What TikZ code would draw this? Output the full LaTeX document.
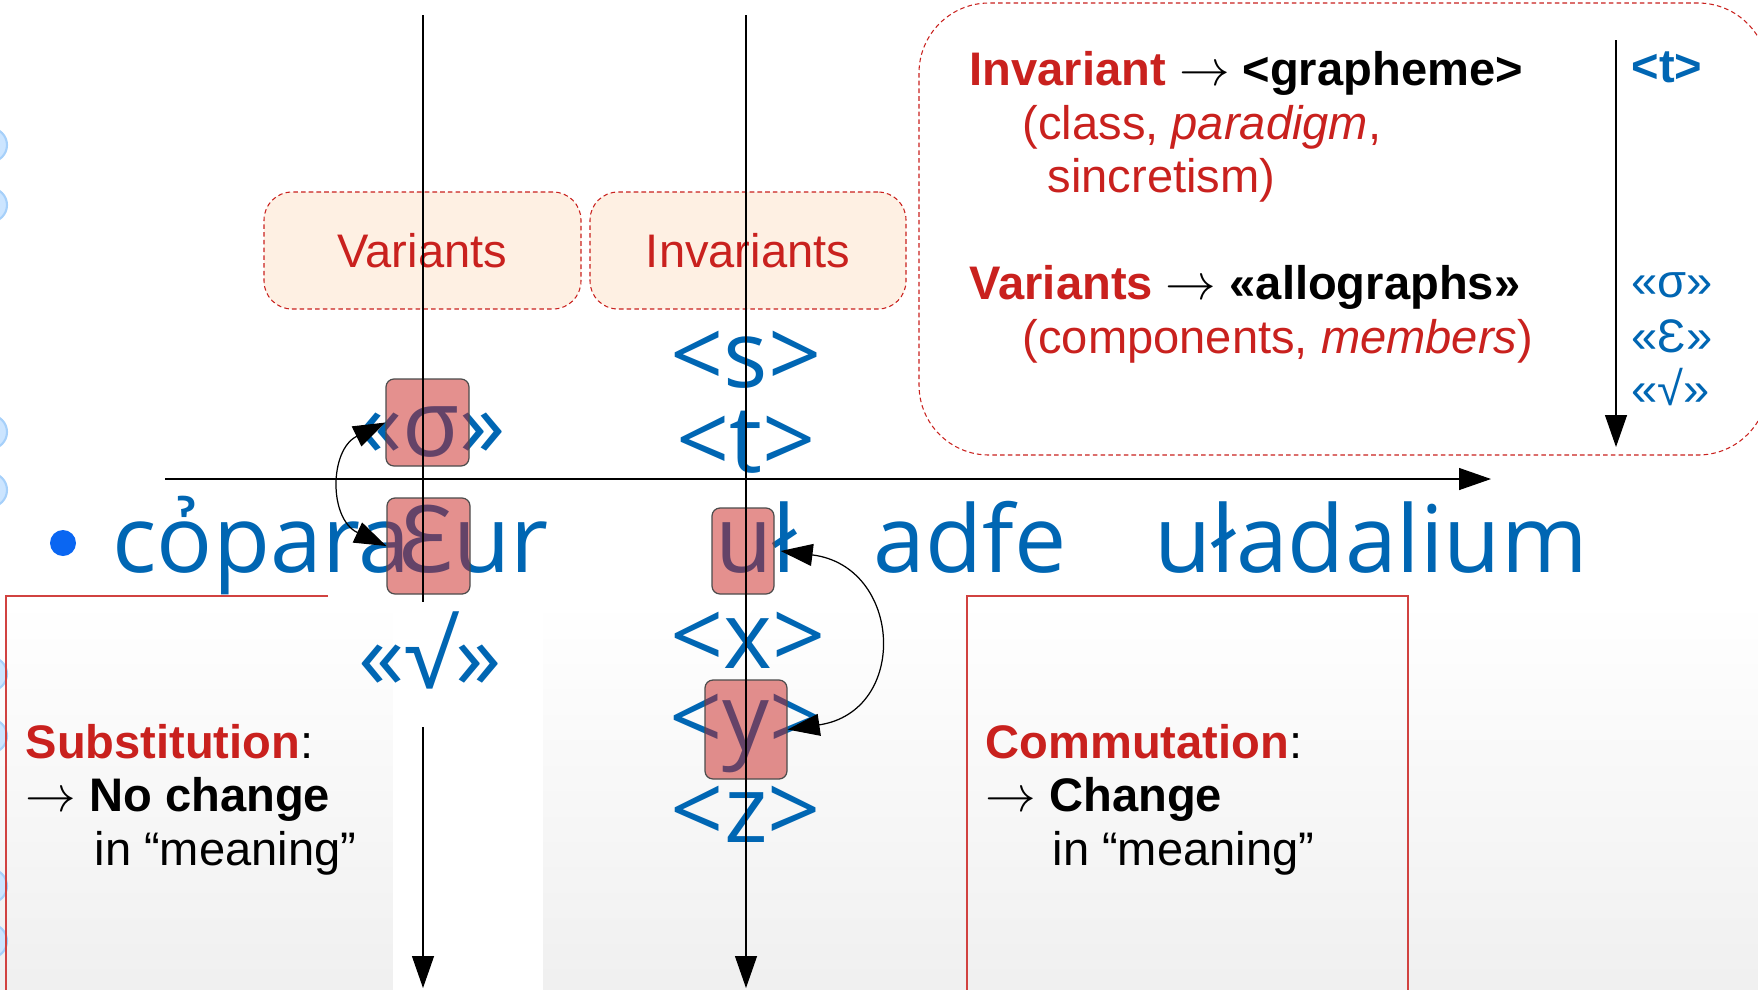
\documentclass[tikz,border=0pt]{standalone}
\usepackage{fontspec}
\setmainfont{Liberation Sans}
\newfontfamily\glyphfont{Open Sans}
\newfontfamily\epsfont{Noto Sans}
\usetikzlibrary{arrows.meta}
\definecolor{slred}{HTML}{C9211E}
\definecolor{slblue}{HTML}{0066B3}
\definecolor{peach}{HTML}{FEF0E3}
\definecolor{dotblue}{HTML}{0A66F2}
\definecolor{ringfill}{HTML}{CCE5FF}
\definecolor{ringedge}{HTML}{A6D0FA}
\newcommand{\bigglyph}{\glyphfont\fontsize{26.5pt}{30pt}\selectfont}
\newcommand{\slidetxt}{\fontsize{13.4pt}{15.2pt}\selectfont}

\tikzset{
  dashbox/.style={draw=slred, dash pattern=on 1.3pt off 0.9pt, line width=0.3pt},
  labelbox/.style={dashbox, fill=peach, rounded corners=0.28cm, minimum height=1.17cm,
    text=slred, font=\fontsize{13.4pt}{15pt}\selectfont},
  hilite/.style={draw=black!70, fill=slred, fill opacity=0.5, rounded corners=0.08cm,
    inner sep=0pt, line width=0.35pt},
  sym/.style={text=slblue, font=\bigglyph, inner sep=0pt},
  boxsym/.style={text=slblue, font=\slidetxt, inner sep=0pt, anchor=base west},
  txtblock/.style={align=left, anchor=base west, inner sep=0pt, font=\slidetxt},
}

\begin{document}
\begin{tikzpicture}[>={Triangle[length=0.32cm, width=0.22cm]}, line width=0.35pt]
\useasboundingbox (0,0) rectangle (17.58,-9.89);

% Background
\shade[top color=white, bottom color=black!6] (0,-6.0) rectangle (17.58,-9.89);
\foreach \y in {1.45,2.05,4.32,4.90,6.74,7.36,8.86,9.41}
  \draw[ringedge, fill=ringfill, line width=0.6pt] (-0.10,-\y) circle (0.17);

% Lower frames
\draw[slred!85, line width=0.4pt] (3.28,-5.96) -- (0.06,-5.96) -- (0.06,-9.95);
\draw[slred!85, line width=0.4pt] (9.67,-9.95) -- (9.67,-5.96) -- (14.08,-5.96) -- (14.08,-9.95);
\fill[white] (3.93,-6.00) rectangle (5.43,-9.95);

% Top-right frame
\draw[dashbox, fill=white, rounded corners=0.7cm] (9.19,-0.03) rectangle (17.68,-4.55);

% Column headings
\node[labelbox, minimum width=3.17cm] (varbox) at (4.225,-2.505) {Variants};
\node[labelbox, minimum width=3.16cm] (invbox) at (7.48,-2.505) {Invariants};

% Main line
\node[circle, fill=dotblue, inner sep=0pt, minimum size=0.26cm] (dot) at (0.63,-5.43) {};
\node[sym, anchor=base west] (wordA) at (1.12,-5.72) {cỏpara\kern-0.12em{\epsfont Ɛ}ur};
\node[sym, anchor=base west] (wordB) at (7.15,-5.72) {uł};
\node[sym, anchor=base west] (wordC) at (8.73,-5.72) {adfe};
\node[sym, anchor=base west] (wordD) at (11.54,-5.72) {uładalium};

% Variant column
\node[sym, anchor=base] (lsig) at (4.31,-4.56) {«σ»};
\node[sym, anchor=base] (lroot) at (4.30,-6.88) {«√»};

% Invariant column
\node[sym, anchor=base] (rs) at (7.46,-3.87) {<s>};
\node[sym, anchor=base] (rt) at (7.46,-4.72) {<t>};
\node[sym, anchor=base] (rx) at (7.48,-6.68) {<x>};
\node[sym, anchor=base] (ry) at (7.46,-7.50) {<y>};
\node[sym, anchor=base] (rz) at (7.46,-8.42) {<z>};

% Highlights
\node[hilite, minimum width=0.83cm, minimum height=0.87cm] (hsig) at (4.275,-4.225) {};
\node[hilite, minimum width=0.83cm, minimum height=0.96cm] (heps) at (4.285,-5.46) {};
\node[hilite, minimum width=0.62cm, minimum height=0.86cm] (hu) at (7.43,-5.51) {};
\node[hilite, minimum width=0.82cm, minimum height=0.99cm] (hy) at (7.46,-7.295) {};

% Axes
\draw (4.23,-0.15) -- (4.23,-6.02);
\draw[->] (4.23,-7.27) -- (4.23,-9.88);
\draw[->] (7.46,-0.15) -- (7.46,-9.88);
\draw[->] (1.65,-4.79) -- (14.91,-4.79);

% Swaps
\draw[<->] (hsig.west) .. controls +(-0.56,-0.27) and +(-0.58,0.27) .. (heps.west);
\draw[<->] ([xshift=0.06cm]hu.east) .. controls +(1.22,-0.15) and +(1.22,0.18) .. (hy.east);

% Definitions
\node[txtblock] (defs) at (9.69,-3.53) {%
  \textbf{\color{slred}Invariant} $\rightarrow$ \textbf{<grapheme>}\\
  \hspace*{0.53cm}{\color{slred}(class, \textit{paradigm},}\\
  \hspace*{0.78cm}{\color{slred}sincretism)}\\[0.534cm]
  \textbf{\color{slred}Variants} $\rightarrow$ \textbf{«allographs»}\\
  \hspace*{0.53cm}{\color{slred}(components, \textit{members})}};
\draw[->] (16.16,-0.40) -- (16.16,-4.47);
\node[boxsym, font=\slidetxt\bfseries] (kt) at (16.31,-0.82) {<t>};
\node[boxsym] (ksig) at (16.31,-2.97) {«σ»};
\node[boxsym] (keps) at (16.31,-3.52) {«Ɛ»};
\node[boxsym] (kroot) at (16.31,-4.05) {«√»};

% Tests
\node[txtblock] (subst) at (0.25,-8.65) {%
  \textbf{\color{slred}Substitution}:\\
  $\rightarrow$ \textbf{No change}\\
  \hspace*{0.69cm}in “meaning”};
\node[txtblock] (commut) at (9.85,-8.65) {%
  \textbf{\color{slred}Commutation}:\\
  $\rightarrow$ \textbf{Change}\\
  \hspace*{0.67cm}in “meaning”};

\end{tikzpicture}
\end{document}
